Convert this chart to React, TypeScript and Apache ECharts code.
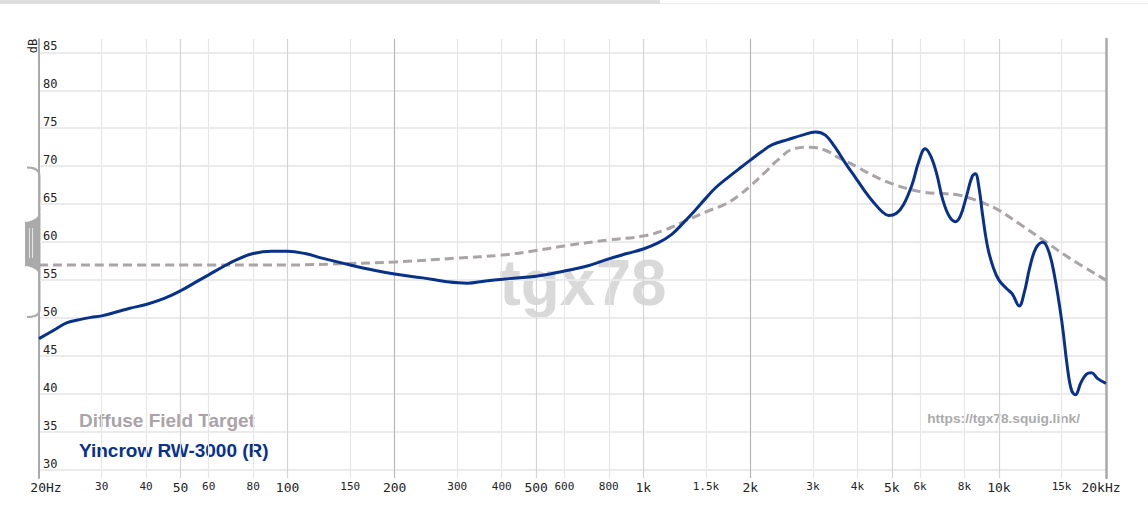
import React, { useEffect, useRef } from "react";
import * as echarts from "echarts";

// ---- Data ----
const FREQ_TICKS = [20, 30, 40, 50, 60, 80, 100, 150, 200, 300, 400, 500, 600, 800, 1000, 1500, 2000, 3000, 4000, 5000, 6000, 8000, 10000, 15000, 20000];
const FREQ_TICK_LABELS = ["20Hz", "30", "40", "50", "60", "80", "100", "150", "200", "300", "400", "500", "600", "800", "1k", "1.5k", "2k", "3k", "4k", "5k", "6k", "8k", "10k", "15k", "20kHz"];
const LARGE_LABEL_TICKS = [20, 50, 100, 200, 500, 1000, 2000, 5000, 10000, 20000];
const MEDIUM_LINE_TICKS = [50, 100, 500, 1000, 5000, 10000];
const DARK_LINE_TICKS = [200, 2000];
const DB_TICKS = [30, 35, 40, 45, 50, 55, 60, 65, 70, 75, 80, 85];

const TARGET_NAME = "Diffuse Field Target";
const targetFreq = [20, 50, 100, 150, 200, 300, 400, 500, 600, 800, 1000, 1150, 1300, 1500, 1700, 1850, 2000, 2200, 2400, 2650, 2950, 3250, 3550, 4000, 4250, 5000, 6100, 7000, 7700, 8400, 9200, 10000, 11600, 13300, 15800, 20000];
const targetDb = [57.0, 57.0, 57.0, 57.2, 57.4, 57.9, 58.3, 58.9, 59.5, 60.3, 60.8, 61.6, 62.7, 64.0, 65.0, 66.1, 67.4, 69.2, 70.9, 72.3, 72.5, 72.1, 71.1, 69.9, 69.2, 67.7, 66.6, 66.4, 66.2, 65.7, 65.0, 64.2, 62.2, 60.3, 57.9, 55.0];

const MEAS_NAME = "Yincrow RW-3000 (R)";
const measFreq = [20, 22, 24, 26, 28, 30, 33, 36, 40, 45, 50, 55, 60, 66, 72, 80, 90, 100, 112, 125, 150, 175, 200, 240, 280, 320, 360, 420, 500, 600, 700, 800, 900, 1000, 1100, 1200, 1300, 1400, 1500, 1600, 1750, 1900, 2000, 2150, 2300, 2550, 2800, 3050, 3250, 3450, 3700, 3950, 4200, 4450, 4700, 4900, 5150, 5400, 5700, 5950, 6200, 6450, 6700, 6950, 7250, 7550, 7800, 8100, 8400, 8580, 8800, 9000, 9300, 9650, 10000, 10500, 10900, 11400, 11800, 12200, 12700, 13300, 13800, 14300, 15000, 15600, 16000, 16400, 17000, 17600, 18200, 19000, 20000];
const measDb = [47.3, 48.4, 49.4, 49.8, 50.1, 50.3, 50.8, 51.3, 51.8, 52.6, 53.6, 54.7, 55.7, 56.8, 57.7, 58.5, 58.8, 58.8, 58.5, 57.9, 57.0, 56.3, 55.8, 55.3, 54.8, 54.6, 54.9, 55.2, 55.5, 56.2, 56.9, 57.8, 58.5, 59.1, 59.9, 61.0, 62.6, 64.2, 65.8, 67.2, 68.7, 70.0, 70.8, 71.9, 72.8, 73.5, 74.1, 74.5, 74.1, 72.6, 70.4, 68.5, 66.7, 65.2, 64.0, 63.5, 63.8, 65.0, 67.6, 70.6, 72.3, 71.2, 68.8, 65.6, 63.4, 62.7, 63.5, 66.0, 68.6, 69.0, 67.0, 63.5, 59.3, 56.6, 55.0, 53.9, 53.2, 51.6, 53.5, 56.6, 59.2, 60.0, 58.8, 55.8, 49.8, 43.3, 40.5, 39.9, 41.5, 42.6, 42.8, 42.0, 41.4];

const WATERMARK = "tgx78";
const SITE_URL = "https://tgx78.squig.link/";
const Y_UNIT = "dB";

// ---- Styles ----
const TARGET_COLOR = "#aaa3a8";
const MEAS_COLOR = "#08318b";
const AXIS_GRAY = "#a9a9a9";
const MONO = "'DejaVu Sans Mono', 'Liberation Mono', monospace";
const SANS = "'Liberation Sans', Arial, sans-serif";

const BRACE_D =
  "M27 167.5 C34 167.5 39.5 169 39.5 176 L39.5 211 M39.5 277 L39.5 310 C39.5 316 34 317 27 317";
const HANDLE_D = "M40.5 209 C40.5 216 35 221 25 222 L25 266 C35 267 40.5 272 40.5 279 Z";

let shapesRegistered = false;
function registerShapes() {
  if (shapesRegistered) return;
  echarts.graphic.registerShape("braceStroke", echarts.graphic.extendPath(BRACE_D, {}));
  echarts.graphic.registerShape("handleFill", echarts.graphic.extendPath(HANDLE_D, {}));
  shapesRegistered = true;
}

function labelFor(v: number): string {
  for (let i = 0; i < FREQ_TICKS.length; i++) {
    if (Math.abs(Math.log10(FREQ_TICKS[i]) - v) < 1e-6) {
      const f = FREQ_TICKS[i];
      const txt = FREQ_TICK_LABELS[i];
      if (i === 0) return "{first|" + txt + "}";
      if (i === FREQ_TICKS.length - 1) return "{last|" + txt + "}";
      return LARGE_LABEL_TICKS.includes(f) ? "{big|" + txt + "}" : "{small|" + txt + "}";
    }
  }
  return "";
}

export default function App() {
  const ref = useRef<HTMLDivElement>(null);

  useEffect(() => {
    if (!ref.current) return;
    registerShapes();
    const chart = echarts.init(ref.current, undefined, { renderer: "svg" });

    const xLineColors = FREQ_TICKS.map((f, i) => {
      if (i === 0 || i === FREQ_TICKS.length - 1) return "rgba(0,0,0,0)";
      if (DARK_LINE_TICKS.includes(f)) return "#b8b8b8";
      if (MEDIUM_LINE_TICKS.includes(f)) return "#d4d4d4";
      return "#e6e6e6";
    });

    const yMin = 28.95;
    const yMax = 86.75;

    const option: any = {
      animation: false,
      backgroundColor: "#ffffff",
      grid: { left: 39, right: 42, top: 39, bottom: 46, containLabel: false },
      xAxis: {
        type: "value",
        min: Math.log10(20),
        max: Math.log10(20000),
        axisLine: { show: false },
        axisTick: { show: false, customValues: FREQ_TICKS.map((f) => Math.log10(f)) },
        axisLabel: {
          customValues: FREQ_TICKS.map((f) => Math.log10(f)),
          formatter: (v: number) => labelFor(v),
          margin: 3,
          hideOverlap: false,
          color: "#222",
          fontFamily: MONO,
          rich: {
            big: { fontSize: 13, fontFamily: MONO, color: "#222" },
            small: { fontSize: 11, fontFamily: MONO, color: "#222" },
            first: { fontSize: 13, fontFamily: MONO, color: "#222", padding: [0, 0, 0, 14] },
            last: { fontSize: 13, fontFamily: MONO, color: "#222", padding: [0, 10, 0, 0] },
          },
        },
        splitLine: { show: true, lineStyle: { color: xLineColors, width: 1.2 } },
      },
      yAxis: [
        {
          type: "value",
          min: yMin,
          max: yMax,
          position: "left",
          axisLine: { show: true, lineStyle: { color: AXIS_GRAY, width: 2 } },
          axisTick: { show: false, customValues: DB_TICKS },
          axisLabel: {
            customValues: DB_TICKS,
            inside: true,
            margin: 4,
            verticalAlign: "bottom",
            color: "#222",
            fontFamily: MONO,
            fontSize: 12,
            showMinLabel: true,
            showMaxLabel: true,
          },
          splitLine: { show: true, lineStyle: { color: "#ebebeb", width: 2 } },
        },
        {
          type: "value",
          min: yMin,
          max: yMax,
          position: "right",
          axisLine: { show: true, lineStyle: { color: AXIS_GRAY, width: 2.5 } },
          axisTick: { show: false },
          axisLabel: { show: false },
          splitLine: { show: false },
        },
      ],
      series: [
        {
          name: TARGET_NAME,
          type: "line",
          yAxisIndex: 0,
          data: targetFreq.map((f, i) => [Math.log10(f), targetDb[i]]),
          smooth: 0.4,
          showSymbol: false,
          symbol: "none",
          lineStyle: { color: TARGET_COLOR, width: 3, type: [9, 5] },
          z: 3,
        },
        {
          name: MEAS_NAME,
          type: "line",
          yAxisIndex: 0,
          data: measFreq.map((f, i) => [Math.log10(f), measDb[i]]),
          smooth: 0.4,
          showSymbol: false,
          symbol: "none",
          lineStyle: { color: MEAS_COLOR, width: 3 },
          z: 4,
        },
      ],
      graphic: [
        { type: "rect", shape: { x: 0, y: 0, width: 660, height: 4 }, style: { fill: "#dedede" }, silent: true },
        { type: "rect", shape: { x: 660, y: 3, width: 488, height: 1 }, style: { fill: "#ececec" }, silent: true },
        {
          type: "text",
          x: 583,
          y: 283,
          z: -1,
          silent: true,
          style: {
            text: WATERMARK,
            fill: "#d9d9d9",
            font: "bold 64px " + SANS,
            align: "center",
            verticalAlign: "middle",
          },
        },
        {
          type: "text",
          x: 32.5,
          y: 46,
          rotation: Math.PI / 2,
          style: { text: Y_UNIT, fill: "#222", font: "12px " + MONO, align: "center", verticalAlign: "middle" },
        },
        { type: "handleFill", x: 0, y: 0, style: { fill: "#aaaaaa", stroke: "none" }, silent: true },
        { type: "line", shape: { x1: 29.5, y1: 228, x2: 29.5, y2: 258 }, style: { stroke: "#e4e4e4", lineWidth: 1 }, silent: true },
        { type: "line", shape: { x1: 32.5, y1: 228, x2: 32.5, y2: 258 }, style: { stroke: "#e4e4e4", lineWidth: 1 }, silent: true },
        { type: "braceStroke", x: 0, y: 0, style: { stroke: "#aaaaaa", lineWidth: 2, fill: "none" }, silent: true },
        {
          type: "text",
          x: 79,
          y: 420,
          style: { text: TARGET_NAME, fill: TARGET_COLOR, font: "bold 19px " + SANS, align: "left", verticalAlign: "middle" },
        },
        {
          type: "text",
          x: 79,
          y: 450,
          style: { text: MEAS_NAME, fill: MEAS_COLOR, font: "bold 19px " + SANS, align: "left", verticalAlign: "middle" },
        },
        {
          type: "text",
          x: 1080,
          y: 418,
          style: { text: SITE_URL, fill: "#ababab", font: "bold 13.7px " + SANS, align: "right", verticalAlign: "middle" },
        },
      ],
    };

    chart.setOption(option);
    return () => chart.dispose();
  }, []);

  return (
    <div
      ref={ref}
      style={{ position: "fixed", left: 0, top: 0, width: "1148px", height: "524px", background: "#fff" }}
    />
  );
}
